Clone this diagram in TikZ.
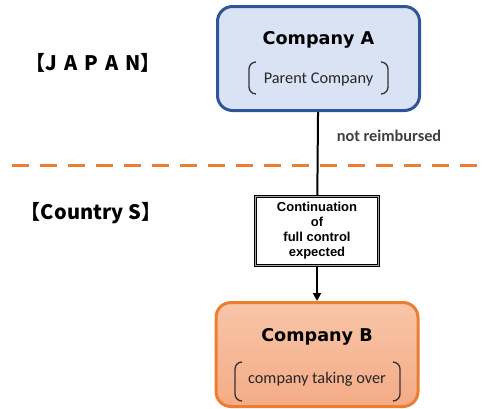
\documentclass[tikz,border=0pt]{standalone}
\usepackage{fontspec}
\setmainfont{Liberation Sans}
\newfontfamily\calibri{Carlito}
\newfontfamily\heavy{DejaVu Sans}
\newfontfamily\jpfont{Noto Sans CJK JP}
\usetikzlibrary{arrows.meta,positioning}
\definecolor{blueline}{HTML}{2F5597}
\definecolor{bluefill}{HTML}{DAE3F3}
\definecolor{orangeline}{HTML}{ED7D31}
\definecolor{orangetop}{HTML}{F8C6A8}
\definecolor{orangebot}{HTML}{F4AB85}
\definecolor{darktext}{HTML}{404040}

\tikzset{
  company/.style={rectangle,rounded corners=15pt,line width=3pt,minimum width=202pt,minimum height=104pt},
  headtext/.style={font=\heavy\bfseries\fontsize{17.6}{20}\selectfont},
  subtext/.style={font=\calibri\fontsize{16.3}{19}\selectfont,text=black!85},
  bracket/.style={line width=1.3pt,draw=black!80,rounded corners=7pt},
  ctrlbox/.style={rectangle,draw=black,line width=1.2pt,double=black!35,double distance=1.2pt,fill=white,
    minimum width=123pt,minimum height=69pt,align=center,
    font=\bfseries\fontsize{13}{15}\selectfont},
  country/.style={font=\jpfont\bfseries\fontsize{20}{24}\selectfont}
}
\newcommand{\roundpair}[4]{% x left, x right, y top, y bottom
  \draw[bracket] (#1+7,#3) -- (#1,#3) -- (#1,#4) -- (#1+7,#4);
  \draw[bracket] (#2-7,#3) -- (#2,#3) -- (#2,#4) -- (#2-7,#4);
}

\begin{document}
\begin{tikzpicture}[x=1pt,y=-1pt]
  \useasboundingbox (0,0) rectangle (488,408);
  \coordinate (A) at (318.5,58.5);
  \coordinate (B) at (317,354.5);
  \coordinate (K) at (317,231);
  % border line between the countries
  \draw[orangeline,line width=3pt,dash pattern=on 17pt off 11pt] (12,165) -- (488,165);
  \node[country] (japan) at (93,63) {【J\kern7pt A\kern7pt P\kern7pt A\kern7pt N】};
  \node[country] (countryS) at (91,213) {【Country S】};
  \node[company,draw=blueline,fill=bluefill] (compA) at (A) {};
  \node[headtext] (nameA) at (318.5,40) {Company A};
  \node[subtext] (roleA) at (318.5,80) {Parent Company};
  \roundpair{249}{388}{62}{94}
  \node[company,draw=orangeline,top color=orangetop,bottom color=orangebot] (compB) at (B) {};
  \node[headtext] (nameB) at (317,337) {Company B};
  \node[subtext] (roleB) at (317,379) {company taking over};
  \roundpair{235}{400}{362}{401}
  \node[ctrlbox] (ctrl) at (K) {Continuation\\of\\full control\\expected};
  \draw[line width=2pt] (compA) -- (ctrl);
  \draw[line width=2pt,-{Triangle[width=8pt,length=8pt]}] (ctrl) -- (compB);
  \node[font=\calibri\bfseries\fontsize{16.3}{19}\selectfont,text=darktext] (noreimb) at (389,136) {not reimbursed};
\end{tikzpicture}
\end{document}
